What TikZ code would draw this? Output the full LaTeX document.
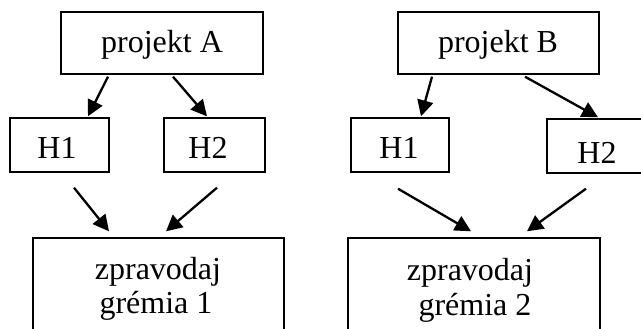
\documentclass[tikz,border=0pt]{standalone}
\usepackage{fontspec}
\setmainfont{Liberation Serif}
\usetikzlibrary{arrows.meta,calc}
\begin{document}
\begin{tikzpicture}[x=1pt,y=-1pt,
  box/.style={draw=black,line width=1.4pt,rectangle,inner sep=0pt},
  lbl/.style={inner sep=0pt,anchor=base,font=\fontsize{32}{35}\selectfont},
  arr/.style={line width=2.3pt,-{Triangle[length=16pt,width=16pt]}}]
\clip (0,0) rectangle (641,329);
\fill[white] (0,0) rectangle (641,329);
% boxes
\node[box,minimum width=202pt,minimum height=62pt] (A) at (162,43) {};
\node[box,minimum width=99pt,minimum height=54pt] (H1L) at (59.5,145) {};
\node[box,minimum width=101pt,minimum height=54pt] (H2L) at (214.5,145) {};
\node[box,minimum width=251pt,minimum height=111pt] (Z1) at (158.5,293.5) {};
\node[box,minimum width=201pt,minimum height=62pt] (B) at (498.5,43) {};
\node[box,minimum width=98pt,minimum height=54pt] (H1R) at (400,145) {};
\node[box,minimum width=113pt,minimum height=54pt] (H2R) at (603.5,146) {};
\node[box,minimum width=252pt,minimum height=111pt] (Z2) at (474,293.5) {};
% texts
\node[lbl] (tA) at (162,53) {projekt A};
\node[lbl] (tH1L) at (57,159) {H1};
\node[lbl] (tH2L) at (208,159) {H2};
\node[lbl] (tZ1a) at (158,279) {zpravodaj};
\node[lbl] (tZ1b) at (156,313) {grémia 1};
\node[lbl] (tB) at (498,53) {projekt B};
\node[lbl] (tH1R) at (399,158) {H1};
\node[lbl] (tH2R) at (597,164) {H2};
\node[lbl] (tZ2a) at (470,280) {zpravodaj};
\node[lbl] (tZ2b) at (475,315) {grémia 2};
% arrows
\draw[arr] ($(A.south)+(-54,2)$) -- ($(H1L.north)+(28.5,-1)$);
\draw[arr] ($(A.south)+(11,2)$) -- ($(H2L.north)+(-7.5,-1)$);
\draw[arr] ($(H1L.south)+(14.5,15)$) -- ($(Z1.north)+(-49.5,-6)$);
\draw[arr] ($(H2L.south)+(2.5,15)$) -- ($(Z1.north)+(7.5,-6)$);
\draw[arr] ($(B.south)+(-66.5,2)$) -- ($(H1R.north)+(21,-1)$);
\draw[arr] ($(B.south)+(26.5,2)$) -- ($(H2R.north)+(-5.5,-1)$);
\draw[arr] ($(H1R.south)+(-2,16)$) -- ($(Z2.north)+(-3,-6)$);
\draw[arr] ($(H2R.south)+(-17.5,15)$) -- ($(Z2.north)+(53,-6)$);
\end{tikzpicture}
\end{document}
